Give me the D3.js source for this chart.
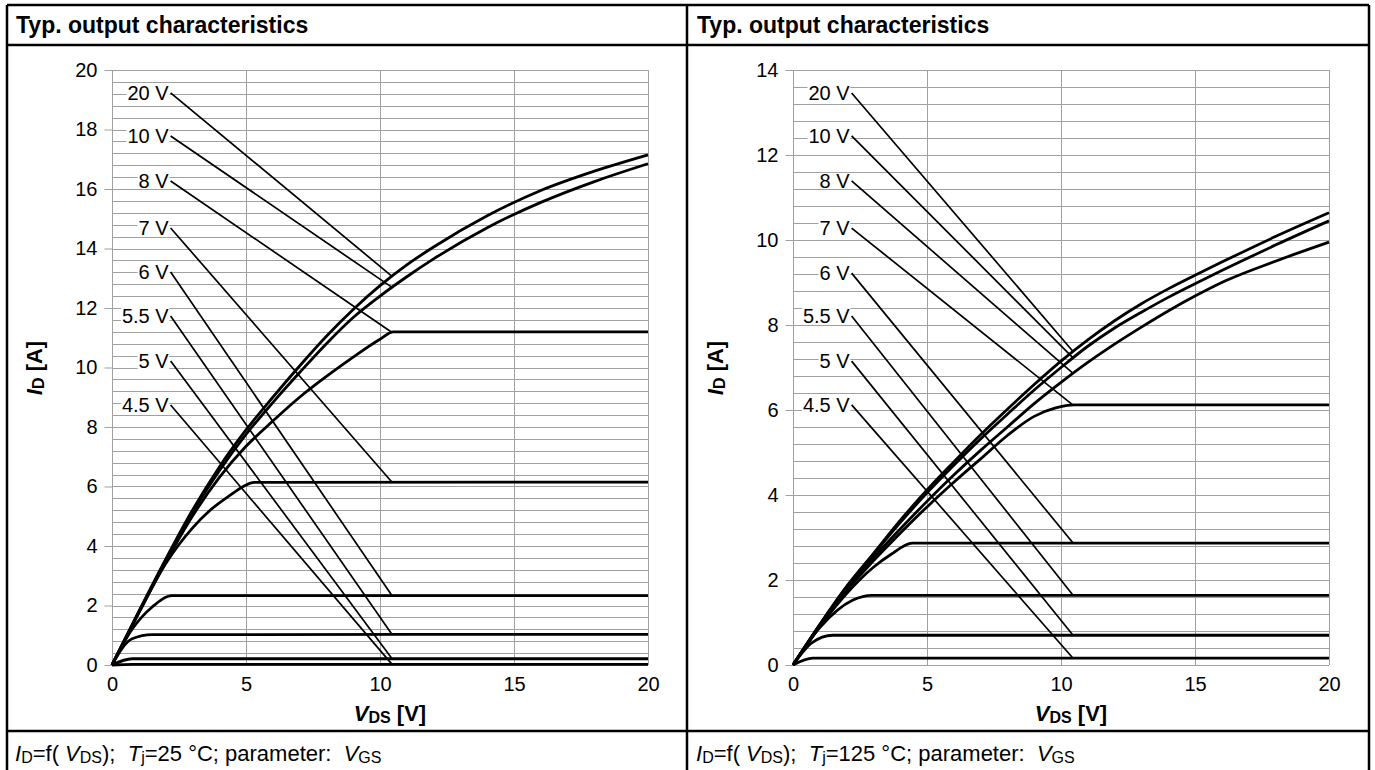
<!DOCTYPE html>
<html>
<head>
<meta charset="utf-8">
<script src="https://cdn.jsdelivr.net/npm/d3@7"></script>
<style>
  body { margin: 0; background: #fff; }
  svg { display: block; font-family: "Liberation Sans", Arial, sans-serif; }
</style>
</head>
<body>
<svg id="chart" width="1375" height="770"></svg>
<script>
// gate voltage labels, same order in both panels
const gateLabels = ["20 V", "10 V", "8 V", "7 V", "6 V", "5.5 V", "5 V", "4.5 V"];

const vdsTicks = [0, 5, 10, 15, 20];
const idTicks25 = [0, 2, 4, 6, 8, 10, 12, 14, 16, 18, 20];
const idTicks125 = [0, 2, 4, 6, 8, 10, 12, 14];

// Tj = 25 °C curves, [VDS, ID]
const c25_20V = [[0,0],[1,1.8],[2,3.55],[3,5.2],[4,6.65],[5,7.9],[6,9.0],[7,10.05],[8,11.05],[9,11.95],[10,12.75],[11,13.45],[12,14.05],[14,15.1],[16,15.95],[18,16.6],[20,17.15]];
const c25_10V = [[0,0],[1,1.78],[2,3.5],[3,5.12],[4,6.52],[5,7.75],[6,8.82],[7,9.83],[8,10.8],[9,11.68],[10,12.4],[11,13.05],[12,13.65],[14,14.7],[16,15.55],[18,16.25],[20,16.85]];
const c25_8V = [[0,0],[1,1.76],[2,3.45],[3,5.0],[4,6.3],[5,7.35],[6,8.2],[7,9.0],[8,9.7],[9,10.35],[10,10.95],[10.5,11.2],[20,11.2]];
const c25_7V = [[0,0],[1,1.75],[2,3.4],[2.5,4.05],[3,4.6],[3.66,5.2],[4.4,5.7],[4.9,6.0],[5.3,6.14],[20,6.15]];
const c25_6V = [[0,0],[0.75,1.2],[1.5,1.95],[2.25,2.33],[20,2.33]];
const c25_55V = [[0,0],[0.75,0.88],[1.5,1.02],[20,1.03]];
const c25_5V = [[0,0],[0.75,0.21],[20,0.21]];
const c25_45V = [[0,0],[0.75,0.02],[20,0.02]];

// Tj = 125 °C curves, [VDS, ID]
const c125_20V = [[0,0],[1,0.95],[2,1.85],[3,2.62],[4,3.4],[5,4.12],[6,4.78],[7,5.42],[8,6.02],[9,6.6],[10,7.15],[11,7.65],[12,8.1],[13,8.5],[14,8.85],[15,9.17],[16,9.48],[18,10.08],[20,10.64]];
const c125_10V = [[0,0],[1,0.95],[2,1.83],[3,2.6],[4,3.35],[5,4.05],[6,4.7],[7,5.32],[8,5.9],[9,6.47],[10,7.0],[11,7.5],[12,7.93],[13,8.3],[14,8.65],[15,8.97],[16,9.28],[18,9.88],[20,10.45]];
const c125_8V = [[0,0],[1,0.93],[2,1.78],[3,2.52],[4,3.2],[5,3.85],[6,4.47],[7,5.05],[8,5.6],[9,6.15],[10,6.65],[11,7.12],[12,7.55],[13,7.95],[14,8.33],[15,8.68],[16,9.0],[18,9.5],[20,9.95]];
const c125_7V = [[0,0],[1,0.92],[2,1.75],[3,2.45],[4,3.1],[5,3.72],[6,4.3],[7,4.85],[8,5.4],[9,5.85],[9.8,6.05],[10.5,6.12],[20,6.12]];
const c125_6V = [[0,0],[1,0.9],[2,1.68],[3,2.3],[3.65,2.6],[4.45,2.87],[20,2.87]];
const c125_55V = [[0,0],[1,0.88],[2.24,1.53],[2.93,1.64],[20,1.64]];
const c125_5V = [[0,0],[0.7,0.52],[1.48,0.7],[20,0.7]];
const c125_45V = [[0,0],[0.74,0.16],[20,0.16]];

// label anchor (ID value) for each gate label
const labelId25 = [19.23, 17.78, 16.27, 14.69, 13.21, 11.73, 10.22, 8.74];
const labelId125 = [13.46, 12.45, 11.39, 10.28, 9.22, 8.21, 7.15, 6.12];
const labelVds = 2.15;
const leaderVds = 10.45;

const svg = d3.select('#chart');

// interpolate ID on a curve at given VDS
const idAt = (curve, v) => {
    for (let i = 1; i < curve.length; i++) {
        if (v <= curve[i][0]) {
            const [x0, y0] = curve[i - 1], [x1, y1] = curve[i];
            return y0 + (y1 - y0) * (v - x0) / (x1 - x0);
        }
    }
    return curve[curve.length - 1][1];
};

// text with italic symbol + subscript pieces: [text, 'i' | 's' | '']
const richText = (t, parts, subSize) => {
    parts.forEach(([s, kind]) => {
        const ts = t.append('tspan').text(s);
        if (kind === 'i') ts.style('font-style', 'italic');
        if (kind === 's') ts.style('font-size', subSize).attr('dy', 2);
        else if (t.attr('data-sub') === '1') ts.attr('dy', -2);
        t.attr('data-sub', kind === 's' ? '1' : '0');
    });
};

const drawPanel = (left, cfg) => {
    const g = svg.append('g');
    const x = d3.scaleLinear().domain([0, 20]).range([left + 105, left + 641]);
    const y = d3.scaleLinear().domain([0, cfg.yMax]).range([665, 70]);

    // title
    g.append('text').attr('x', left + 9).attr('y', 33)
        .style('font-size', '23px').style('font-weight', 'bold')
        .text('Typ. output characteristics');

    // minor horizontal grid
    g.append('g').selectAll('line')
        .data(d3.range(0, cfg.yMax + 0.01, 0.4))
        .join('line')
        .attr('x1', x(0)).attr('x2', x(20))
        .attr('y1', d => Math.round(y(d)) + 0.5).attr('y2', d => Math.round(y(d)) + 0.5)
        .attr('stroke', '#a0a0a0').attr('stroke-width', 1);

    // vertical grid
    g.append('g').selectAll('line')
        .data(vdsTicks)
        .join('line')
        .attr('x1', d => Math.round(x(d)) + 0.5).attr('x2', d => Math.round(x(d)) + 0.5)
        .attr('y1', y(0)).attr('y2', y(cfg.yMax))
        .attr('stroke', '#a0a0a0').attr('stroke-width', 1);

    // y axis ticks + labels
    const yAxis = d3.axisLeft(y).tickValues(cfg.yTicks).tickSize(8).tickPadding(7);
    g.append('g').attr('transform', `translate(${Math.round(x(0)) + 0.5},0)`).call(yAxis)
        .call(a => a.select('.domain').remove())
        .call(a => a.selectAll('line').attr('stroke', '#a0a0a0'))
        .call(a => a.selectAll('text').style('font-size', '20px').style('font-family', 'inherit').attr('fill', '#000'));

    // x axis labels
    const xAxis = d3.axisBottom(x).tickValues(vdsTicks).tickSize(0).tickPadding(12);
    g.append('g').attr('transform', `translate(0,${y(0)})`).call(xAxis)
        .call(a => a.select('.domain').remove())
        .call(a => a.selectAll('text').style('font-size', '20px').style('font-family', 'inherit').attr('fill', '#000'));

    // axis titles
    const xt = g.append('text').attr('x', left + 383).attr('y', 721)
        .attr('text-anchor', 'middle').style('font-size', '22px').style('font-weight', 'bold');
    richText(xt, [['V', 'i'], ['DS', 's'], [' [V]', '']], '16px');

    const yt = g.append('text')
        .attr('transform', `translate(${left + 35},${368}) rotate(-90)`)
        .attr('text-anchor', 'middle').style('font-size', '22px').style('font-weight', 'bold');
    richText(yt, [['I', 'i'], ['D', 's'], [' [A]', '']], '16px');

    // curves
    const line = d3.line().x(d => x(d[0])).y(d => y(d[1])).curve(d3.curveMonotoneX);
    g.append('g').selectAll('path')
        .data(cfg.curves)
        .join('path')
        .attr('d', line)
        .attr('fill', 'none').attr('stroke', '#000').attr('stroke-width', 2.8);

    // labels with leader lines
    gateLabels.forEach((lab, i) => {
        const lx = x(labelVds), ly = y(cfg.labelIds[i]);
        g.append('line')
            .attr('x1', lx + 1).attr('y1', ly)
            .attr('x2', x(leaderVds)).attr('y2', y(idAt(cfg.curves[i], leaderVds)))
            .attr('stroke', '#000').attr('stroke-width', 1.7);
        const t = g.append('text').attr('x', lx - 1).attr('y', ly + 7)
            .attr('text-anchor', 'end').style('font-size', '20px').text(lab);
        const bb = t.node().getBBox();
        g.insert('rect', () => t.node()).attr('x', bb.x - 1).attr('y', bb.y + 3)
            .attr('width', bb.width + 1).attr('height', bb.height - 6).attr('fill', '#fff');
    });

    // footer
    const ft = g.append('text').attr('x', left + 8).attr('y', 761).style('font-size', '22px');
    richText(ft, [['I', 'i'], ['D', 's'], ['=f( ', ''], ['V', 'i'], ['DS', 's'], [');\u00a0 ', ''],
        ['T', 'i'], ['j', 's'], [`=${cfg.tj} °C; parameter:\u00a0 `, ''], ['V', 'i'], ['GS', 's']], '16px');
};

drawPanel(7, {
    yMax: 20, yTicks: idTicks25, tj: 25, labelIds: labelId25,
    curves: [c25_20V, c25_10V, c25_8V, c25_7V, c25_6V, c25_55V, c25_5V, c25_45V]
});
drawPanel(688, {
    yMax: 14, yTicks: idTicks125, tj: 125, labelIds: labelId125,
    curves: [c125_20V, c125_10V, c125_8V, c125_7V, c125_6V, c125_55V, c125_5V, c125_45V]
});

// table frame
const frame = svg.append('g').attr('stroke', '#000').attr('stroke-width', 2.5).attr('fill', 'none');
frame.append('line').attr('x1', 7).attr('x2', 1369).attr('y1', 5).attr('y2', 5);
frame.append('line').attr('x1', 7).attr('x2', 1369).attr('y1', 45).attr('y2', 45);
frame.append('line').attr('x1', 7).attr('x2', 1369).attr('y1', 731).attr('y2', 731);
frame.append('line').attr('x1', 7).attr('x2', 7).attr('y1', 5).attr('y2', 770);
frame.append('line').attr('x1', 687).attr('x2', 687).attr('y1', 5).attr('y2', 770);
frame.append('line').attr('x1', 1369).attr('x2', 1369).attr('y1', 5).attr('y2', 770);
</script>
</body>
</html>
